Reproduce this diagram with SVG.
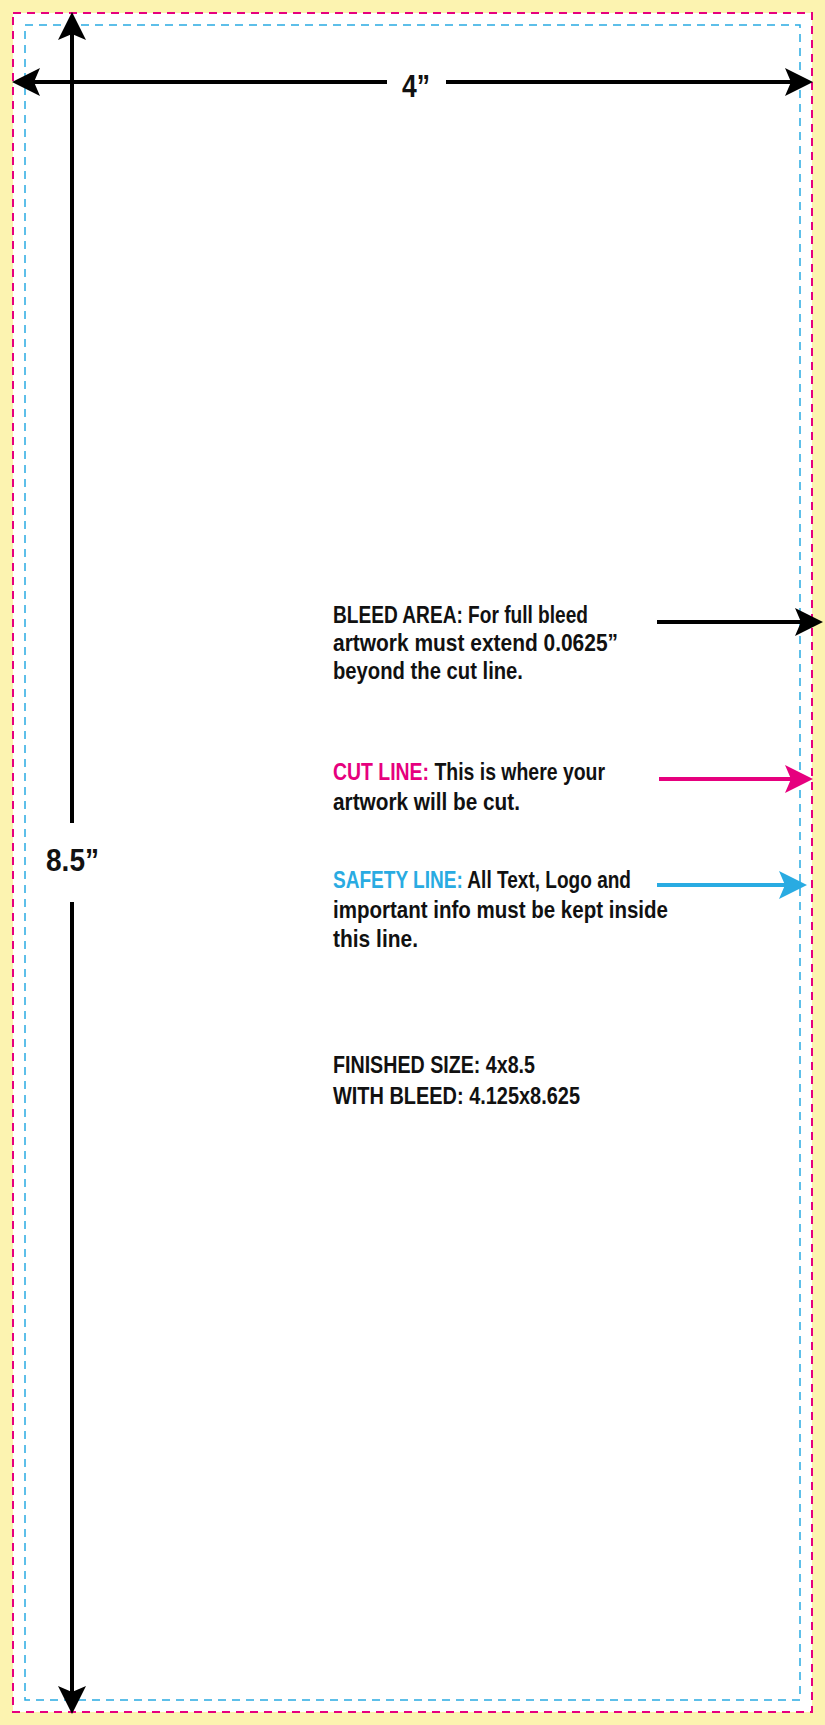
<svg xmlns="http://www.w3.org/2000/svg" width="825" height="1725" viewBox="0 0 825 1725">
<defs>
<style>
.t{font-family:"Liberation Sans",Arial,sans-serif;font-weight:bold;font-size:24px;fill:#111}
.d{font-family:"Liberation Sans",Arial,sans-serif;font-weight:bold;font-size:32px;fill:#111}
.pk{fill:#e6007e}.bl{fill:#29abe2}
</style>
<marker id="ak" markerWidth="7" markerHeight="7" refX="6" refY="3.5" orient="auto" markerUnits="strokeWidth"><path d="M0,0 L7,3.5 L0,7 L1.5,3.5 Z" fill="#000"/></marker>
<marker id="ap" markerWidth="7" markerHeight="7" refX="6" refY="3.5" orient="auto" markerUnits="strokeWidth"><path d="M0,0 L7,3.5 L0,7 L1.5,3.5 Z" fill="#e6007e"/></marker>
<marker id="ab" markerWidth="7" markerHeight="7" refX="6" refY="3.5" orient="auto" markerUnits="strokeWidth"><path d="M0,0 L7,3.5 L0,7 L1.5,3.5 Z" fill="#29abe2"/></marker>
</defs>
<rect width="825" height="1725" fill="#fcf3b0"/>
<rect x="13" y="13" width="799" height="1699" fill="#fff" stroke="#e6007e" stroke-width="2" stroke-dasharray="8,6"/>
<rect x="25" y="25" width="775" height="1675" fill="none" stroke="#29abe2" stroke-width="1.5" stroke-dasharray="8,6"/>
<g id="connectors" stroke-width="4" fill="none">
<line x1="387" y1="82" x2="16" y2="82" stroke="#000" marker-end="url(#ak)"/>
<line x1="446" y1="82" x2="809" y2="82" stroke="#000" marker-end="url(#ak)"/>
<line x1="72" y1="823" x2="72" y2="16" stroke="#000" marker-end="url(#ak)"/>
<line x1="72" y1="902" x2="72" y2="1710" stroke="#000" marker-end="url(#ak)"/>
<line x1="657" y1="622" x2="819" y2="622" stroke="#000" marker-end="url(#ak)"/>
<line x1="659" y1="779" x2="809" y2="779" stroke="#e6007e" marker-end="url(#ap)"/>
<line x1="657" y1="885" x2="803" y2="885" stroke="#29abe2" marker-end="url(#ab)"/>
</g>
<g id="dim-width"><text class="d" x="416" y="97" text-anchor="middle" textLength="28" lengthAdjust="spacingAndGlyphs">4”</text></g>
<g id="dim-height"><text class="d" x="46" y="871" textLength="53" lengthAdjust="spacingAndGlyphs">8.5”</text></g>
<g id="bleed">
<text class="t" x="333" y="623" textLength="255" lengthAdjust="spacingAndGlyphs">BLEED AREA: For full bleed</text>
<text class="t" x="333" y="651" textLength="285" lengthAdjust="spacingAndGlyphs">artwork must extend 0.0625”</text>
<text class="t" x="333" y="679" textLength="190" lengthAdjust="spacingAndGlyphs">beyond the cut line.</text>
</g>
<g id="cut">
<text class="t" x="333" y="780" textLength="272" lengthAdjust="spacingAndGlyphs"><tspan class="pk">CUT LINE:</tspan> This is where your</text>
<text class="t" x="333" y="810" textLength="187" lengthAdjust="spacingAndGlyphs">artwork will be cut.</text>
</g>
<g id="safety">
<text class="t" x="333" y="888" textLength="298" lengthAdjust="spacingAndGlyphs"><tspan class="bl">SAFETY LINE:</tspan> All Text, Logo and</text>
<text class="t" x="333" y="918" textLength="335" lengthAdjust="spacingAndGlyphs">important info must be kept inside</text>
<text class="t" x="333" y="947" textLength="85" lengthAdjust="spacingAndGlyphs">this line.</text>
</g>
<g id="size">
<text class="t" x="333" y="1073" textLength="202" lengthAdjust="spacingAndGlyphs">FINISHED SIZE: 4x8.5</text>
<text class="t" x="333" y="1104" textLength="247" lengthAdjust="spacingAndGlyphs">WITH BLEED: 4.125x8.625</text>
</g>
</svg>
